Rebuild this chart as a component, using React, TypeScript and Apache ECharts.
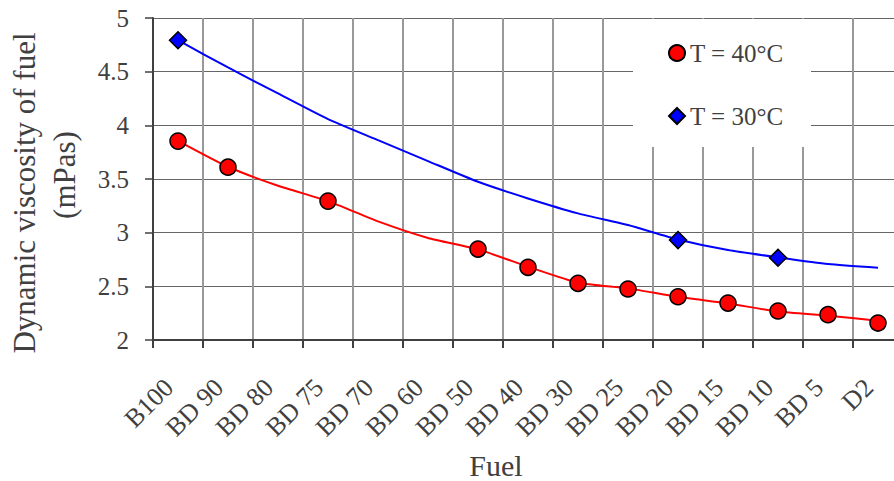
import React, { useEffect, useRef } from "react";
import * as echarts from "echarts";

const categories = ["B100", "BD 90", "BD 80", "BD 75", "BD 70", "BD 60", "BD 50", "BD 40", "BD 30", "BD 25", "BD 20", "BD 15", "BD 10", "BD 5", "D2"];
const visc40 = [3.853, 3.61, null, 3.294, null, null, 2.847, 2.677, 2.528, 2.475, 2.403, 2.344, 2.27, 2.236, 2.158];
const visc30 = [4.793, null, null, null, null, null, null, null, null, null, 2.931, null, 2.766, null, null];
const trend40 = [3.856, 3.614, 3.437, 3.294, 3.105, 2.951, 2.844, 2.683, 2.534, 2.481, 2.403, 2.341, 2.265, 2.227, 2.18];
const trend30 = [4.793, 4.539, 4.297, 4.058, 3.862, 3.667, 3.474, 3.319, 3.18, 3.071, 2.937, 2.838, 2.77, 2.708, 2.673];
const seriesNames = ["T = 40°C", "T = 30°C"];
const yTitle = ["Dynamic viscosity of fuel", "(mPas)"];
const xTitle = "Fuel";

const FONT = "'Liberation Serif', 'Times New Roman', serif";
const TEXT = "#404040";

export default function App() {
  const ref = useRef<HTMLDivElement>(null);
  useEffect(() => {
    document.body.style.margin = "0";
    const chart = echarts.init(ref.current!, null, { renderer: "svg" });
    chart.setOption({
      animation: false,
      backgroundColor: "#ffffff",
      grid: { left: 153, top: 18, width: 750, height: 322, containLabel: false, outerBoundsMode: "none" },
      xAxis: {
        type: "category",
        data: categories,
        boundaryGap: true,
        axisLine: { show: true, lineStyle: { color: TEXT, width: 2 } },
        axisTick: { show: true, length: 8, alignWithLabel: false, lineStyle: { color: TEXT, width: 2 } },
        axisLabel: { interval: 0, rotate: 45, margin: 34, padding: [0, 13, 0, 0], fontFamily: FONT, fontSize: 26, color: TEXT },
        splitLine: { show: true, interval: 0, lineStyle: { color: "#999999", width: 2 } },
      },
      yAxis: {
        type: "value",
        min: 2,
        max: 5,
        interval: 0.5,
        axisLine: { show: true, lineStyle: { color: TEXT, width: 2 } },
        axisTick: { show: true, length: 8, lineStyle: { color: TEXT, width: 1.5 } },
        axisLabel: { margin: 24, fontFamily: FONT, fontSize: 25, color: TEXT },
        splitLine: { show: true, lineStyle: { color: "#666666", width: 1.2 } },
      },
      legend: {
        data: seriesNames,
        orient: "vertical",
        left: 668,
        top: 38,
        padding: 0,
        itemWidth: 16,
        itemHeight: 16,
        itemGap: 33,
        selectedMode: false,
        textStyle: { fontFamily: FONT, fontSize: 25, color: TEXT, lineHeight: 30 },
      },
      graphic: [
        { type: "rect", z: 1, shape: { x: 633, y: 19, width: 178, height: 128 }, style: { fill: "#ffffff" } },
        {
          type: "text", x: 24, y: 193, rotation: Math.PI / 2,
          style: { text: yTitle[0], fontFamily: FONT, fontSize: 31, fill: TEXT, textAlign: "center", textVerticalAlign: "middle", verticalAlign: "middle" },
        },
        {
          type: "text", x: 64, y: 175, rotation: Math.PI / 2,
          style: { text: yTitle[1], fontFamily: FONT, fontSize: 31, fill: TEXT, textAlign: "center", textVerticalAlign: "middle", verticalAlign: "middle" },
        },
        {
          type: "text", x: 496, y: 465,
          style: { text: xTitle, fontFamily: FONT, fontSize: 30, fill: TEXT, textAlign: "center", textVerticalAlign: "middle", verticalAlign: "middle" },
        },
      ],
      series: [
        { name: "trend40", type: "line", data: trend40, symbol: "none", smooth: 0.2, z: 2, lineStyle: { color: "#ff0000", width: 2 } },
        { name: "trend30", type: "line", data: trend30, symbol: "none", smooth: 0.2, z: 2, lineStyle: { color: "#0000ff", width: 2 } },
        { name: seriesNames[0], type: "scatter", data: visc40, symbol: "circle", symbolSize: 16, z: 3, itemStyle: { color: "#ff0000", borderColor: "#000000", borderWidth: 1.5, opacity: 1 } },
        { name: seriesNames[1], type: "scatter", data: visc30, symbol: "diamond", symbolSize: 17, z: 3, itemStyle: { color: "#0000ff", borderColor: "#000000", borderWidth: 1.5, opacity: 1 } },
      ],
    });
    return () => chart.dispose();
  }, []);
  return <div ref={ref} style={{ width: 894, height: 481 }} />;
}
